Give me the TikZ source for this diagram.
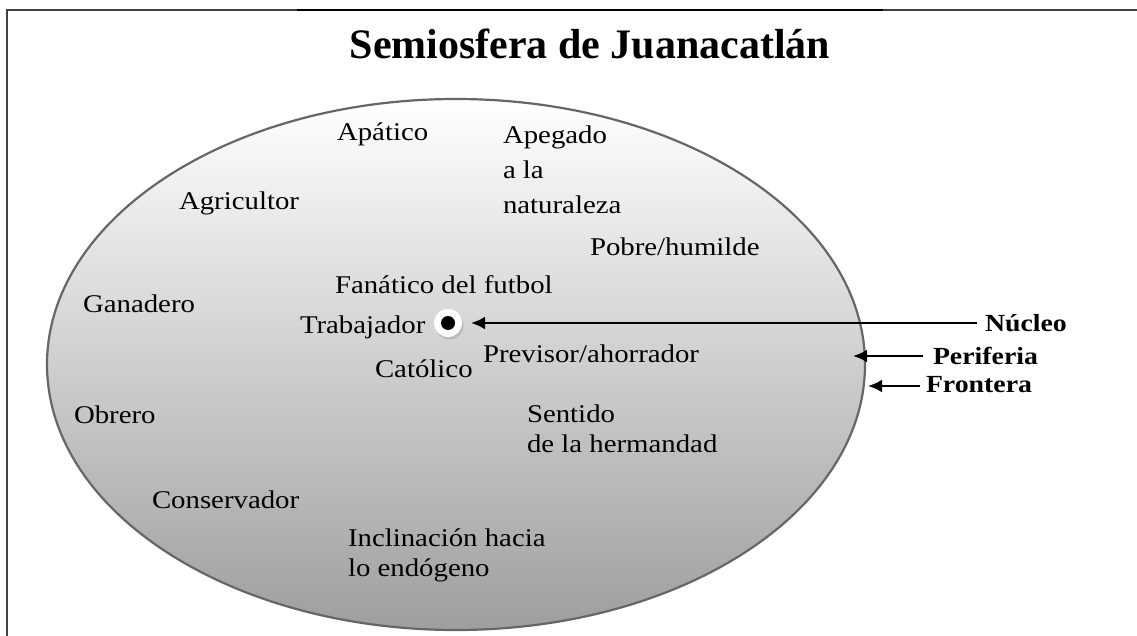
\documentclass[tikz,border=0pt]{standalone}
\usepackage{fontspec}
\setmainfont{Liberation Serif}
\newfontfamily\lblfont[FakeStretch=1.13]{Liberation Serif}
\usetikzlibrary{arrows.meta,shapes.geometric,shadows}

\begin{document}
\begin{tikzpicture}[x=1pt,y=-1pt,inner sep=0pt,outer sep=0pt,
lbl/.style={anchor=base west,font=\lblfont\fontsize{25.5}{30}\selectfont},
lbltwo/.style={anchor=north west,align=left,font=\lblfont\fontsize{25.5}{30}\selectfont},
tag/.style={anchor=base west,font=\lblfont\fontsize{24.6}{30}\selectfont\bfseries},
pointer/.style={-{Latex[length=14pt,width=13pt]},line width=2.6pt}]
\useasboundingbox (0,0) rectangle (1137,636);

\draw[line width=2.5pt,black!75] (7,636) -- (7,10) -- (297,10);
\draw[line width=1.5pt] (297,10) -- (883,10);
\draw[line width=2.5pt,black!75] (883,10) -- (1137,10);
\draw (590,59) node[anchor=base,font=\fontsize{42}{48}\selectfont\bfseries] (title) {Semiosfera de Juanacatlán};

\draw (456,364.5) node[draw=black!60,line width=2.2pt,ellipse,minimum width=818,minimum height=531,
  top color=white,middle color=black!16,bottom color=black!38] (semiosfera) {};

\draw (337,141) node[lbl] (apatico) {Apático};
\draw (503,125.6) node[lbltwo,font=\lblfont\fontsize{25.5}{35}\selectfont] (apegado) {Apegado\\a la\\naturaleza};
\draw (179,210) node[lbl] (agricultor) {Agricultor};
\draw (590,255) node[lbl] (pobre) {Pobre/humilde};
\draw (335,293) node[lbl] (fanatico) {Fanático del futbol};
\draw (83,312) node[lbl] (ganadero) {Ganadero};
\draw (300,333) node[lbl] (trabajador) {Trabajador};
\draw (483,362) node[lbl] (previsor) {Previsor/ahorrador};
\draw (375,377) node[lbl] (catolico) {Católico};
\draw (74,423) node[lbl] (obrero) {Obrero};
\draw (527,404.6) node[lbltwo] (sentido) {Sentido\\de la hermandad};
\draw (152,508) node[lbl] (conservador) {Conservador};
\draw (348,528.6) node[lbltwo] (inclinacion) {Inclinación hacia\\lo endógeno};

% centro de la semiosfera
\draw (448,323) node[circle,fill=white,minimum size=28,
  drop shadow={shadow xshift=1.5pt,shadow yshift=-2.5pt,opacity=0.3}] (core) {};
\draw (448,323) node[circle,fill=black,minimum size=14] (coredot) {};

\draw (985,331) node[tag] (nucleo) {Núcleo};
\draw (933,364) node[tag] (periferia) {Periferia};
\draw (926,392) node[tag] (frontera) {Frontera};
\coordinate (perifpt) at (853,356);
\coordinate (frontpt) at (868,386);

\draw[pointer,shorten <=8pt,shorten >=9pt] (nucleo.base west |- core) -- (core);
\draw[pointer,shorten <=10pt] (periferia.base west |- perifpt) -- (perifpt);
\draw[pointer,shorten <=6pt] (frontera.base west |- frontpt) -- (frontpt);
\end{tikzpicture}
\end{document}
